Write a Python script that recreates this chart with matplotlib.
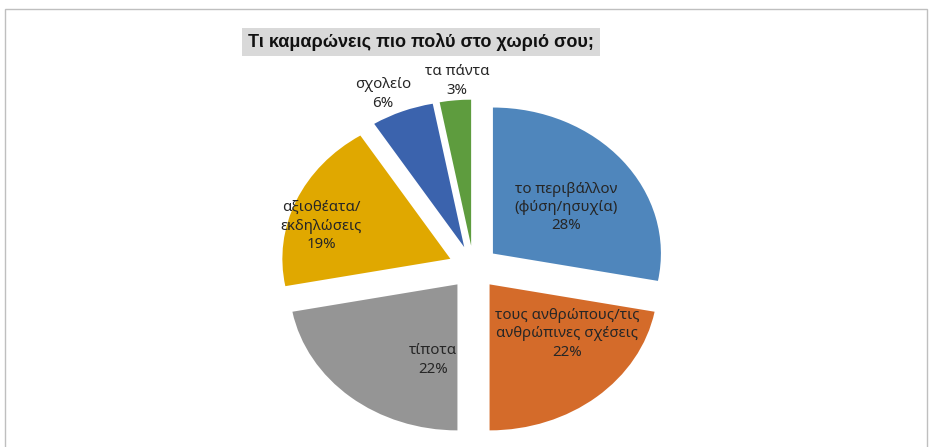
import matplotlib
matplotlib.use("Agg")
import matplotlib.pyplot as plt
from matplotlib.patches import Rectangle

plt.rcParams["font.family"] = ["Noto Sans", "DejaVu Sans"]

# data
title = "Τι καμαρώνεις πιο πολύ στο χωριό σου;"
categories = [
    "το περιβάλλον\n(φύση/ησυχία)",
    "τους ανθρώπους/τις\nανθρώπινες σχέσεις",
    "τίποτα",
    "αξιοθέατα/\nεκδηλώσεις",
    "σχολείο",
    "τα πάντα",
]
shares = [28, 22, 22, 19, 6, 3]
colors = ["#4F86BC", "#D46B2A", "#959595", "#E0A800", "#3B63AD", "#5E9C3E"]

# label anchor points (data units of the pie axes)
label_pos = [(0.55, 0.41), (0.557, -0.455), (-0.241, -0.634),
             (-0.908, 0.284), (-0.539, 1.188), (-0.098, 1.277)]

W, H = 932, 447
fig = plt.figure(figsize=(W / 100, H / 100), dpi=100)

# outer chart border
fig.patches.append(Rectangle((5 / W, -0.02), 922 / W, 1.02 - 9 / H,
                             transform=fig.transFigure, fill=False,
                             edgecolor="#BFBFBF", linewidth=1))

# pie axes, stretched a bit horizontally like the original
cx, cy, rx, ry, lim = 473.5, 447 - 267.5, 168, 146, 1.2
ax = fig.add_axes([(cx - lim * rx) / W, (cy - lim * ry) / H,
                   2 * lim * rx / W, 2 * lim * ry / H])
ax.pie(shares, colors=colors, startangle=90, counterclock=False,
       explode=[0.15] * len(shares), wedgeprops=dict(linewidth=0))
ax.set_aspect("auto")
ax.set_xlim(-lim, lim)
ax.set_ylim(-lim, lim)
ax.axis("off")

for name, val, (x, y) in zip(categories, shares, label_pos):
    ax.text(x, y, f"{name}\n{val}%", ha="center", va="center",
            fontsize=10.8, color="#262626", linespacing=1.3)

# title box
fig.patches.append(Rectangle((242 / W, 1 - 56 / H), 358 / W, 28 / H,
                             transform=fig.transFigure,
                             facecolor="#D9D9D9", edgecolor="none"))
fig.text(421 / W, 1 - 42 / H, title, ha="center", va="center",
         fontsize=13, fontweight="bold", color="#111111",
         family=["Liberation Sans", "DejaVu Sans"])

fig.savefig("out.png", dpi=100)
